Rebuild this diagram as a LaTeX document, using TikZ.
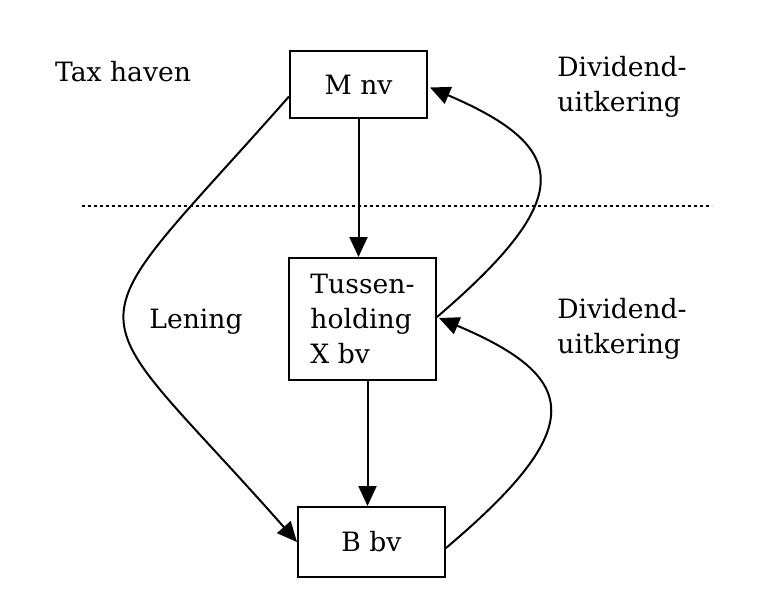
\documentclass[tikz,border=0pt]{standalone}
\usepackage{fontspec}
\setmainfont{DejaVu Serif}
\usepackage{tikz}
\usetikzlibrary{arrows.meta,calc}

\begin{document}
\begin{tikzpicture}[
          x=0.5pt, y=-0.5pt,
          font=\fontsize{13.3}{17.5}\selectfont,
          box/.style={draw=black, line width=1pt, align=left, inner sep=0pt},
          fl/.style={-{Triangle[length=10pt,width=9pt]}, draw=black, line width=1pt},
          lbl/.style={align=left, inner sep=0pt}
        ]
        \useasboundingbox (0,0) rectangle (774,600);
        % boxes
        \node[box, minimum width=68.5pt, minimum height=33.5pt] (mnv) at (358.5,84.5) {M nv};
        \node[box, minimum width=73.5pt, minimum height=61pt] (tus) at (362.5,319) {Tussen-\\holding\\X bv};
        \node[box, minimum width=73.5pt, minimum height=35pt] (bbv) at (371.5,542) {B bv};
        % labels
        \node[lbl] (tax) at (123,72) {Tax haven};
        \node[lbl, anchor=west] (div1) at (557,87) {Dividend-\\uitkering};
        \node[lbl] (len) at (196,322) {Lening};
        \node[lbl, anchor=west] (div2) at (557,329) {Dividend-\\uitkering};
        % border tax haven
        \coordinate (gl) at (82,206);
        \coordinate (gr) at (712,206);
        \draw[line width=0.9pt, dash pattern=on 1.6pt off 1.4pt] (gl) -- (gr);
        % arrows
        \draw[fl] (mnv.south) -- (mnv.south |- tus.north);
        \draw[fl] ([xshift=2.5pt]tus.south) -- ([xshift=2.5pt]tus.south |- bbv.north);
        \draw[fl] ($(mnv.west)+(0,12)$) .. controls +(-224,254) and +(-224,-254) .. (bbv.west);
        \draw[fl] ($(tus.east)+(0,-2)$) .. controls +(140,-120) and +(140,60) .. ($(mnv.east)+(2,3)$);
        \draw[fl] ($(bbv.east)+(0,6)$) .. controls +(142,-120) and +(142,60) .. ($(tus.east)+(2,-1)$);
      \end{tikzpicture}
\end{document}
